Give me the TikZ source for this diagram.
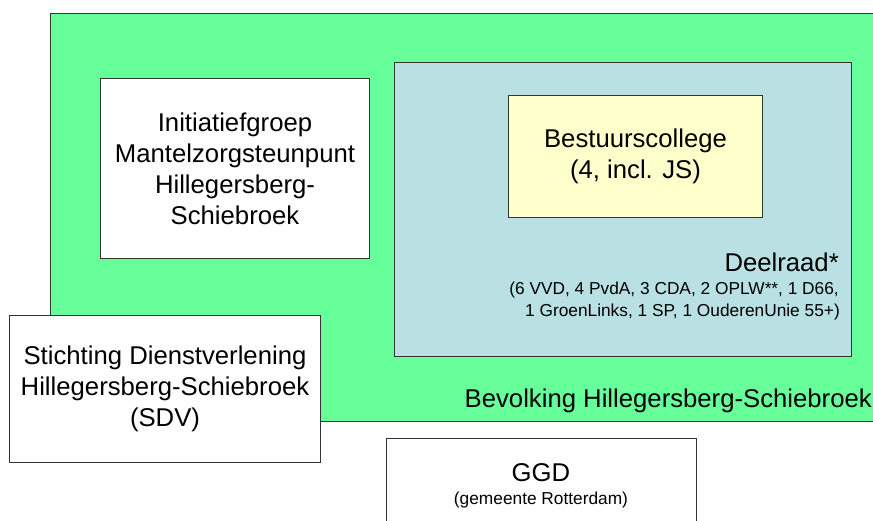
\documentclass[tikz,border=0pt]{standalone}
\usepackage{fontspec}
\setmainfont{Liberation Sans}
\definecolor{bevolkinggroen}{RGB}{102,255,153}
\definecolor{deelraadblauw}{RGB}{185,224,227}
\definecolor{collegegeel}{RGB}{255,255,204}

\tikzset{
  vak/.style={draw=black!80, line width=1pt, anchor=north west, inner sep=0pt,
    align=center, font=\fontsize{25.7}{31}\selectfont},
  groot/.style={inner sep=0pt, font=\fontsize{25.7}{31}\selectfont},
  klein/.style={inner sep=0pt, font=\fontsize{17.3}{21}\selectfont}
}

\begin{document}
\begin{tikzpicture}[x=1pt,y=-1pt]
    \useasboundingbox (0,0) rectangle (873,521);
    \clip (0,0) rectangle (873,521);

    % Draw the population area
    \node[vak, fill=bevolkinggroen, minimum width=840pt, minimum height=408pt] (bevolking) at (50,13) {};
    \node[groot, anchor=base east] (bevolkingnaam) at (872,407) {Bevolking Hillegersberg-Schiebroek};

    % Draw the boxes inside it
    \node[vak, fill=white, minimum width=269pt, minimum height=180pt] (initiatief) at (100,78)
        {Initiatiefgroep\\Mantelzorgsteunpunt\\Hillegersberg-\\Schiebroek};
    \node[vak, fill=deelraadblauw, minimum width=457pt, minimum height=294pt] (deelraad) at (394,62) {};
    \node[vak, fill=collegegeel, minimum width=254pt, minimum height=122pt] (college) at (508,95)
        {Bestuurscollege\\(4, incl. JS)};

    % Add labels of the council
    \node[groot, anchor=base east] (deelraadnaam) at (839,272) {Deelraad*};
    \node[klein, anchor=base east] (partijen1) at (839,295) {(6 VVD, 4 PvdA, 3 CDA, 2 OPLW**, 1 D66,};
    \node[klein, anchor=base east] (partijen2) at (840,317) {1 GroenLinks, 1 SP, 1 OuderenUnie 55+)};

    % Draw the boxes outside it
    \node[vak, fill=white, minimum width=311pt, minimum height=147pt] (sdv) at (9,315)
        {Stichting Dienstverlening\\Hillegersberg-Schiebroek\\(SDV)};
    \node[vak, fill=white, minimum width=310pt, minimum height=110pt] (ggd) at (386,438) {};
    \node[groot, anchor=base] (ggdnaam) at (541,481) {GGD};
    \node[klein, anchor=base] (ggdgemeente) at (541,504) {(gemeente Rotterdam)};
\end{tikzpicture}
\end{document}
